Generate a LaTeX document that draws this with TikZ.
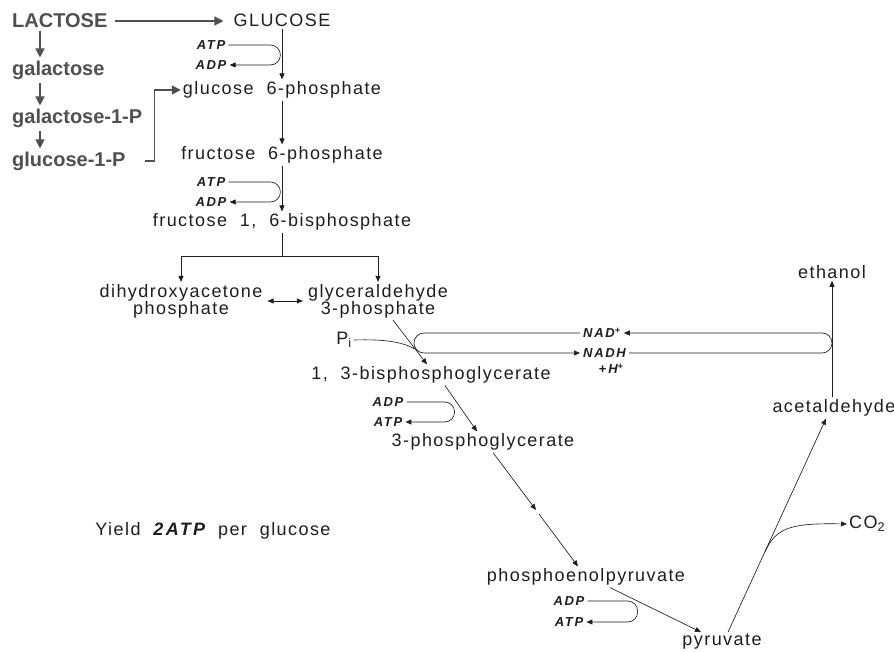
\documentclass[tikz,border=0pt]{standalone}
\usepackage{fontspec}
\usetikzlibrary{arrows.meta}
\newfontfamily\pathfont[LetterSpace=8]{Liberation Sans}
\newfontfamily\cofont[LetterSpace=13]{Liberation Sans}
\newfontfamily\sidefont{Liberation Sans}
\definecolor{ink}{HTML}{1E1E1E}
\definecolor{sideink}{HTML}{505050}
\begin{document}
\begin{tikzpicture}[x=1pt, y=-1pt,
		met/.style={font=\pathfont\fontsize{18}{17}\selectfont, text=ink, inner sep=2pt, align=center},
		cof/.style={font=\cofont\bfseries\itshape\fontsize{13}{13}\selectfont, text=ink, inner sep=3pt},
		side/.style={font=\sidefont\bfseries\fontsize{20}{22}\selectfont, text=sideink, inner sep=3pt, anchor=west},
		flow/.style={draw=ink, line width=0.65pt, -{Triangle[length=6pt,width=5pt]}},
		bigflow/.style={draw=sideink, line width=1.3pt, -{Triangle[length=9pt,width=9pt]}},
		loop/.style={flow, rounded corners=10pt}]
		\fill[white] (0,0) rectangle (894,652);
		\useasboundingbox (0,0) rectangle (894,652);
		
		\node[side] (lactose) at (9,21) {LACTOSE};
		\node[side] (galactose) at (9,70) {galactose};
		\node[side] (galp) at (9,118) {galactose-1-P};
		\node[side] (glcp) at (9,161) {glucose-1-P};
		
		\node[met] (glucose) at (282,20) {GLUCOSE};
		\node[met] (gsixp) at (282,90) {glucose\ \ 6-phosphate};
		\node[met] (fsixp) at (282,155) {fructose\ \ 6-phosphate};
		\node[met] (fbp) at (282,222) {fructose\ \ 1,\ \ 6-bisphosphate};
		\node[met] (dhap) at (181,301) {dihydroxyacetone\\phosphate};
		\node[met] (gap) at (378,301) {glyceraldehyde\\3-phosphate};
		\node[met] (pi) at (344,340) {P\textsubscript{i}};
		\node[met] (bpg) at (431,375) {1,\ \ 3-bisphosphoglycerate};
		\node[met] (pgthree) at (483,442) {3-phosphoglycerate};
		\coordinate (pgtwo) at (536,510);
		\node[met] (pep) at (586,577) {phosphoenolpyruvate};
		\node[met] (pyruvate) at (722,642) {pyruvate};
		\node[met] (acetald) at (834,408) {acetaldehyde};
		\node[met] (ethanol) at (832,272) {ethanol};
		\node[met, anchor=west] (cotwo) at (847,524) {CO\textsubscript{2}};
		\node[met] (yield) at (213,531) {Yield\ \ {\cofont\bfseries\itshape 2ATP}\ \ per\ \ glucose};
		
		\node[cof] (atpone) at (211,45) {ATP};
		\node[cof] (adpone) at (211,65) {ADP};
		\node[cof] (atptwo) at (211,182) {ATP};
		\node[cof] (adptwo) at (211,202) {ADP};
		\node[cof] (adpthree) at (388,402) {ADP};
		\node[cof] (atpthree) at (388,422) {ATP};
		\node[cof] (adpfour) at (569,601) {ADP};
		\node[cof] (atpfour) at (569,622) {ATP};
		\node[cof, anchor=west] (nadp) at (580,333) {NAD\textsuperscript{+}};
		\node[cof, anchor=west] (nadh) at (580,353) {NADH};
		\node[cof] (hplus) at (611,369) {+\,H\textsuperscript{+}};
		
		\draw[bigflow, shorten <=4pt, shorten >=8pt] (lactose.east) -- (lactose.east -| glucose.west);
		\draw[bigflow] ([xshift=31pt]lactose.south west) -- ([xshift=31pt]galactose.north west);
		\draw[bigflow] ([xshift=31pt]galactose.south west) -- ([xshift=31pt]galp.north west);
		\draw[bigflow] ([xshift=31pt]galp.south west) -- ([xshift=31pt]glcp.north west);
		\draw[bigflow] (glcp.east) ++(16pt,0) -- ++(10pt,0) |- (gsixp.west);
		
		\draw[flow] (glucose) -- (gsixp);
		\draw[flow] (gsixp) -- (fsixp);
		\draw[flow] (fsixp) -- (fbp);
		\draw[loop] (atpone.east) -- ++(52,0) |- (adpone.east);
		\draw[loop] (atptwo.east) -- ++(52,0) |- (adptwo.east);
		\draw[ink, line width=0.65pt] (fbp.south) -- ++(0,24) coordinate (split);
		\draw[flow] (split) -| (dhap.north);
		\draw[flow] (split) -| (gap.north);
		\draw[flow, {Triangle[length=6pt,width=5pt]}-{Triangle[length=6pt,width=5pt]}, shorten <=3pt, shorten >=3pt] (dhap) -- (gap);
		
		\coordinate (pijoin) at (415,349);
		\draw[flow] ([xshift=15pt]gap.south) -- ([xshift=-4pt]bpg.north);
		\draw[ink, line width=0.65pt] (pi.east) .. controls (385,339) and (402,342) .. (pijoin);
		\draw[loop] (nadp.west) -- ++(-166,0) |- (nadh.west);
		\draw[loop] (nadh.east) -- (nadh.east -| ethanol) |- (nadp.east);
		\draw[flow] (acetald.north -| ethanol) -- (ethanol);
		
		\draw[flow] ([xshift=14pt]bpg.south) -- ([xshift=-6pt]pgthree.north);
		\draw[loop] (adpthree.east) -- ++(48,0) |- (atpthree.east);
		\draw[flow] ([xshift=10pt]pgthree.south) -- (pgtwo);
		\draw[flow, shorten <=5pt] (pgtwo) -- ([xshift=-8pt]pep.north);
		\draw[flow] ([xshift=24pt]pep.south) -- ([xshift=-21pt]pyruvate.north);
		\draw[loop] (adpfour.east) -- ++(50,0) |- (atpfour.east);
		\draw[flow] ([xshift=6pt]pyruvate.north) -- ([xshift=-8pt]acetald.south);
		\coordinate (cobranch) at (765,552);
		\draw[flow] (cobranch) .. controls (776,527) and (792,523) .. (cotwo.west);
\end{tikzpicture}
\end{document}
